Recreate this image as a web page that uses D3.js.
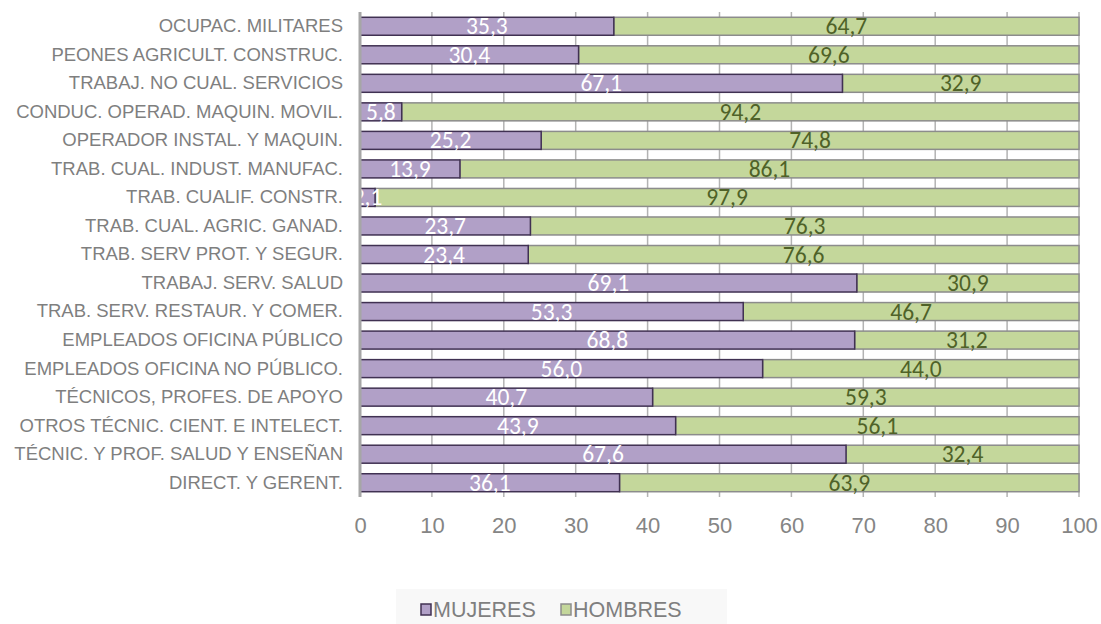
<!DOCTYPE html>
<html><head><meta charset="utf-8">
<script src="https://cdn.jsdelivr.net/npm/d3@7"></script>
<style>body{margin:0;background:#fff}svg{display:block}</style>
</head><body>
<script>
const categories = ["OCUPAC. MILITARES","PEONES AGRICULT. CONSTRUC.","TRABAJ. NO CUAL. SERVICIOS","CONDUC. OPERAD. MAQUIN. MOVIL.","OPERADOR INSTAL. Y MAQUIN.","TRAB. CUAL. INDUST. MANUFAC.","TRAB. CUALIF. CONSTR.","TRAB. CUAL. AGRIC. GANAD.","TRAB. SERV  PROT. Y SEGUR.","TRABAJ. SERV. SALUD","TRAB. SERV. RESTAUR. Y COMER.","EMPLEADOS OFICINA PÚBLICO","EMPLEADOS OFICINA NO PÚBLICO.","TÉCNICOS, PROFES. DE APOYO","OTROS TÉCNIC. CIENT. E INTELECT.","TÉCNIC. Y PROF. SALUD Y ENSEÑAN","DIRECT. Y GERENT."];
const mujeres = [35.3,30.4,67.1,5.8,25.2,13.9,2.1,23.7,23.4,69.1,53.3,68.8,56.0,40.7,43.9,67.6,36.1];
const hombres = [64.7,69.6,32.9,94.2,74.8,86.1,97.9,76.3,76.6,30.9,46.7,31.2,44.0,59.3,56.1,32.4,63.9];
const ticks = [0,10,20,30,40,50,60,70,80,90,100];
const seriesNames = ["MUJERES","HOMBRES"];

const W=1101,H=624;
const svg=d3.select("body").append("svg").attr("width",W).attr("height",H);
const x=d3.scaleLinear().domain([0,100]).range([360,1079]);
const y=d3.scaleBand().domain(categories).range([12,497]).paddingInner(0.37).paddingOuter(0.185);

// gridlines
svg.append("g").selectAll("line").data(ticks.slice(1)).join("line")
  .attr("x1",d=>x(d)).attr("x2",d=>x(d)).attr("y1",12).attr("y2",497)
  .attr("stroke","#b3b3b3").attr("stroke-width",1.5);

const fmt=v=>v.toFixed(1).replace(".",",");
const g=svg.append("g");
categories.forEach((c,i)=>{
  const m=mujeres[i],h=hombres[i];
  g.append("rect").attr("x",x(m)).attr("y",y(c)).attr("width",x(m+h)-x(m)).attr("height",y.bandwidth())
    .attr("fill","#c4d79b").attr("stroke","#8c8c8c").attr("stroke-width",1.5);
  g.append("rect").attr("x",x(0)).attr("y",y(c)).attr("width",x(m)-x(0)).attr("height",y.bandwidth())
    .attr("fill","#b1a0c7").attr("stroke","#403152").attr("stroke-width",1.5);
});
categories.forEach((c,i)=>{
  const m=mujeres[i],h=hombres[i];
  const yc=y(c)+y.bandwidth()/2;
  g.append("text").attr("x",(x(0)+x(m))/2).attr("y",yc+8).attr("text-anchor","middle")
    .attr("font-family","Carlito, 'Liberation Sans', sans-serif").attr("font-size",23.5).attr("fill","#ffffff").text(fmt(m));
  g.append("text").attr("x",(x(m)+x(m+h))/2).attr("y",yc+8).attr("text-anchor","middle")
    .attr("font-family","Carlito, 'Liberation Sans', sans-serif").attr("font-size",23.5).attr("fill","#4f6228").text(fmt(h));
});

// y axis line
svg.append("line").attr("x1",360).attr("x2",360).attr("y1",12).attr("y2",497).attr("stroke","#a6a6a6").attr("stroke-width",3);
// category labels
const ya=d3.axisLeft(y).tickSize(0).tickPadding(17);
const yg=svg.append("g").attr("transform","translate(360,0)").call(ya);
yg.select(".domain").remove();
yg.selectAll("text").attr("font-family","'Liberation Sans', Arial, sans-serif").attr("font-size",18.5).attr("fill","#7f7f7f");

// x axis labels
const xa=d3.axisBottom(x).tickValues(ticks).tickSize(0).tickPadding(20);
const xg=svg.append("g").attr("transform","translate(0,497)").call(xa);
xg.select(".domain").remove();
xg.selectAll("text").attr("font-family","'Liberation Sans', Arial, sans-serif").attr("font-size",22).attr("fill","#858585");

// legend
const lg=svg.append("g");
lg.append("rect").attr("x",396).attr("y",589).attr("width",331).attr("height",35).attr("fill","#f8f8f8");
const leg=[{n:seriesNames[0],f:"#b1a0c7",s:"#403152",x:421},{n:seriesNames[1],f:"#c4d79b",s:"#8c8c8c",x:561}];
leg.forEach(l=>{
  lg.append("rect").attr("x",l.x).attr("y",604).attr("width",10).attr("height",11).attr("fill",l.f).attr("stroke",l.s).attr("stroke-width",1.5);
  lg.append("text").attr("x",l.x+12).attr("y",616.5).attr("font-family","'Liberation Sans', Arial, sans-serif").attr("font-size",21.5).attr("fill","#7f7f7f").text(l.n);
});
</script>
</body></html>
